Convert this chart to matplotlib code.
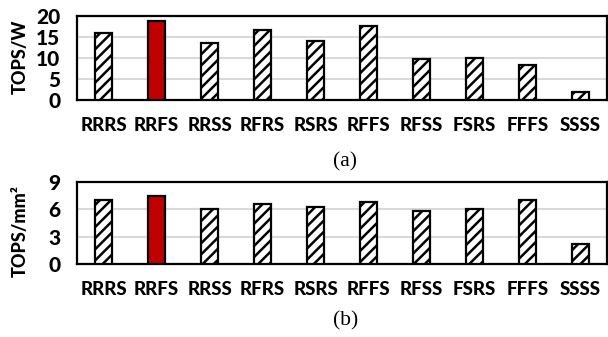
import matplotlib.pyplot as plt
import numpy as np

CONFIGS = ['RRRS', 'RRFS', 'RRSS', 'RFRS', 'RSRS', 'RFFS', 'RFSS', 'FSRS', 'FFFS', 'SSSS']
TOPS_W = [16.0, 18.9, 13.5, 16.7, 14.0, 17.5, 9.7, 9.9, 8.4, 1.9]
TOPS_MM2 = [7.0, 7.45, 6.05, 6.55, 6.25, 6.75, 5.85, 6.05, 7.05, 2.15]
HIGHLIGHT = 1

plt.rcParams['font.family'] = ['Lato', 'DejaVu Sans']
plt.rcParams['hatch.linewidth'] = 1.8

fig = plt.figure(figsize=(6.08, 3.37), dpi=100)
ax1 = fig.add_axes([0.1266, 0.7033, 0.872, 0.2493])
ax2 = fig.add_axes([0.1266, 0.2166, 0.872, 0.2442])


def draw(ax, vals, ymax, step):
    x = np.arange(len(CONFIGS))
    colors = ['white'] * len(vals)
    hatches = ['///'] * len(vals)
    colors[HIGHLIGHT] = '#C00000'
    hatches[HIGHLIGHT] = ''
    for xi, v, c, h in zip(x, vals, colors, hatches):
        ax.bar(xi, v, width=0.33, color=c, edgecolor='black', hatch=h,
               linewidth=1.6, zorder=3)
    ax.set_xlim(-0.5, len(CONFIGS) - 0.5)
    ax.set_ylim(0, ymax)
    ax.set_yticks(np.arange(0, ymax + 0.1, step))
    ax.yaxis.grid(True, color='#D9D9D9', linewidth=1.5, zorder=0)
    ax.set_xticks(x)
    ax.set_xticklabels(CONFIGS, fontsize=13.5, fontweight='black')
    ax.tick_params(axis='x', length=0, pad=12)
    ax.tick_params(axis='y', length=0, pad=12, labelsize=15)
    for lab in ax.get_yticklabels():
        lab.set_fontweight('black')
    for s in ax.spines.values():
        s.set_linewidth(1.6)


draw(ax1, TOPS_W, 20, 5)
draw(ax2, TOPS_MM2, 9, 3)

fig.text(0.033, 0.832, 'TOPS/W', rotation=90, ha='center', va='center',
         fontsize=13, fontweight='black')
fig.text(0.033, 0.313, 'TOPS/mm²', rotation=90, ha='center', va='center',
         fontsize=13, fontweight='black')
fig.text(0.568, 1 - 162 / 337, '(a)', ha='center', va='center',
         fontsize=15.5, family='Liberation Serif')
fig.text(0.568, 1 - 321 / 337, '(b)', ha='center', va='center',
         fontsize=15.5, family='Liberation Serif')

fig.savefig('out.png', dpi=100)
